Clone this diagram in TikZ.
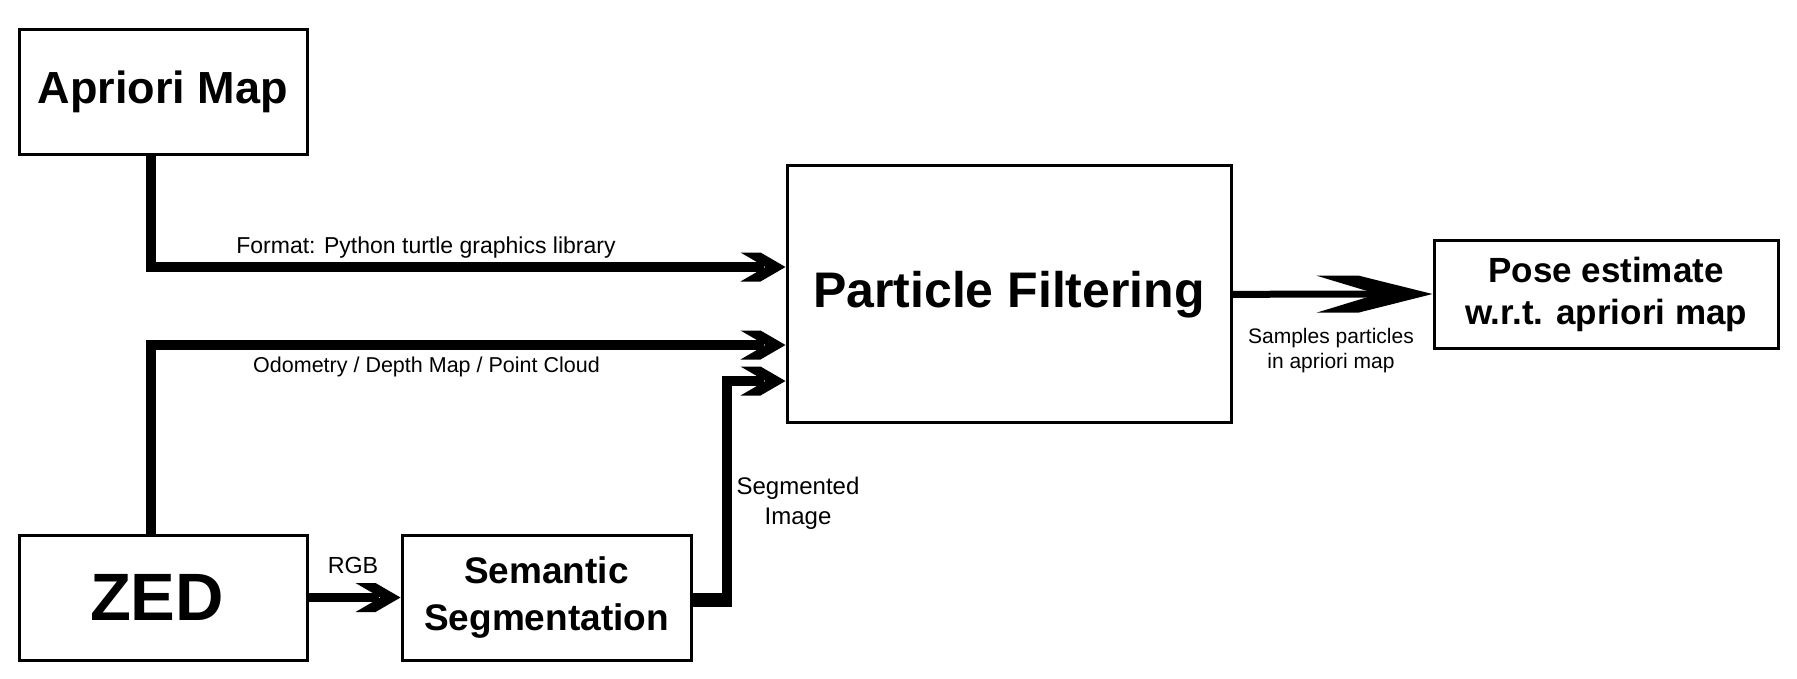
\documentclass[tikz,border=0pt]{standalone}
\usepackage{fontspec}
\setmainfont{Liberation Sans}
\usetikzlibrary{arrows.meta}
\pgfdeclarearrow{
  name = SmallChev,
  setup code = {
    \pgfarrowssettipend{0pt}
    \pgfarrowssetlineend{-22pt}
    \pgfarrowssetbackend{-45pt}
  },
  drawing code = {
    \pgfpathmoveto{\pgfpoint{-45pt}{14.5pt}}
    \pgfpathlineto{\pgfpoint{-25pt}{14.5pt}}
    \pgfpathlineto{\pgfpoint{0pt}{0pt}}
    \pgfpathlineto{\pgfpoint{-25pt}{-14.5pt}}
    \pgfpathlineto{\pgfpoint{-45pt}{-14.5pt}}
    \pgfpathlineto{\pgfpoint{-20pt}{0pt}}
    \pgfpathclose
    \pgfusepathqfill
  }
}
\pgfdeclarearrow{
  name = BigChev,
  setup code = {
    \pgfarrowssettipend{0pt}
    \pgfarrowssetlineend{-50pt}
    \pgfarrowssetbackend{-116pt}
  },
  drawing code = {
    \pgfpathmoveto{\pgfpoint{-116pt}{18.5pt}}
    \pgfpathlineto{\pgfpoint{-74pt}{18.5pt}}
    \pgfpathlineto{\pgfpoint{0pt}{0pt}}
    \pgfpathlineto{\pgfpoint{-74pt}{-18.5pt}}
    \pgfpathlineto{\pgfpoint{-116pt}{-18.5pt}}
    \pgfpathlineto{\pgfpoint{-55pt}{0pt}}
    \pgfpathclose
    \pgfusepathqfill
  }
}
\begin{document}
\begin{tikzpicture}[x=1pt,y=-1pt,
  box/.style={draw,line width=3pt,inner sep=0pt,align=center},
  conn/.style={line width=10pt,-{SmallChev}},
  lbl/.style={inner sep=0pt,align=center}]
\useasboundingbox[fill=white] (0,0) rectangle (1797,678);
\node[box,minimum width=288pt,minimum height=125pt,font=\bfseries\fontsize{45}{54}\selectfont] (apriori) at (163,91.5) {Apriori Map};
\node[box,minimum width=288pt,minimum height=125pt,font=\bfseries\fontsize{67}{75}\selectfont] (zed) at (163,597.5) {ZED\hspace*{12pt}};
\node[box,minimum width=289pt,minimum height=125pt,font=\bfseries\fontsize{37}{47}\selectfont] (seg) at (546.5,597.5) {Semantic\\Segmentation};
\node[box,minimum width=444pt,minimum height=257pt,font=\bfseries\fontsize{50}{60}\selectfont] (pf) at (1009,294.3) {Particle Filtering};
\node[box,minimum width=344pt,minimum height=108pt,font=\bfseries\fontsize{35}{42}\selectfont] (pose) at (1606,294) {Pose estimate\\w.r.t. apriori map};

\draw[conn] ([xshift=-12pt]apriori.south) |- ([yshift=27.3pt]pf.west);
\draw[conn] ([xshift=-12pt]zed.north) |- ([yshift=-50.7pt]pf.west);
\draw[line width=14pt] ([yshift=-2.5pt]seg.east) -- ++(39,0);
\draw[conn] ([yshift=-2.5pt]seg.east) -- ++(34,0) |- ([yshift=-86.7pt]pf.west);
\draw[line width=9pt,-{SmallChev}] (zed.east) -- (seg.west);
\draw[line width=7pt,-{BigChev}] (pf.east) -- (pose.west);

\node[lbl,font=\fontsize{23}{28}\selectfont] (l1) at (426,248) {Format: Python turtle graphics library};
\node[lbl,font=\fontsize{21.5}{26}\selectfont] (l2) at (426.5,367) {Odometry / Depth Map / Point Cloud};
\node[lbl,font=\fontsize{24}{30}\selectfont] (l3) at (798,503) {Segmented\\Image};
\node[lbl,font=\fontsize{23.3}{28}\selectfont] (l4) at (353,565) {RGB};
\node[lbl,font=\fontsize{21}{25}\selectfont] (l5) at (1331,350.5) {Samples particles\\in apriori map};
\end{tikzpicture}
\end{document}
